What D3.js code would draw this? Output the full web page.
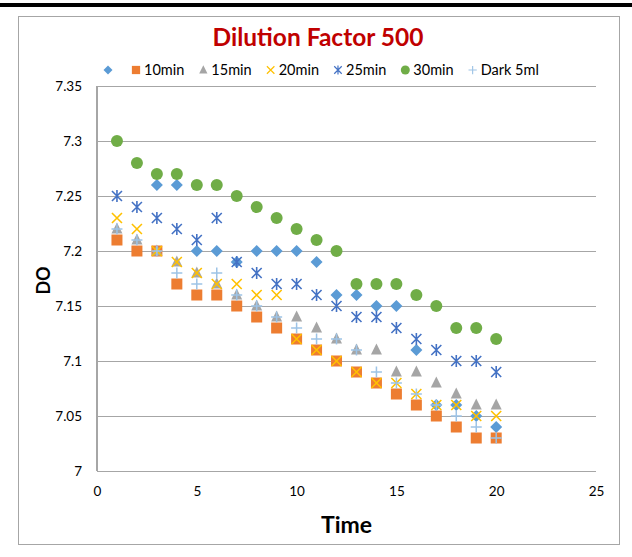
<!DOCTYPE html>
<html>
<head>
<meta charset="utf-8">
<script src="https://cdn.jsdelivr.net/npm/d3@7"></script>
<style>
  html, body { margin: 0; padding: 0; background: #fff; }
  svg { display: block; font-family: Lato, "Open Sans", sans-serif; }
</style>
</head>
<body>
<svg id="chart" width="632" height="557"></svg>
<script>
// ---- data ----
const timeValues = [1,2,3,4,5,6,7,8,9,10,11,12,13,14,15,16,17,18,19,20];
const seriesNames = ["", "10min", "15min", "20min", "25min", "30min", "Dark 5ml"];
const seriesBlank = [null, null, 7.26, 7.26, 7.2, 7.2, 7.19, 7.2, 7.2, 7.2, 7.19, 7.16, 7.16, 7.15, 7.15, 7.11, 7.06, 7.06, 7.05, 7.04];
const series10 = [7.21, 7.2, 7.2, 7.17, 7.16, 7.16, 7.15, 7.14, 7.13, 7.12, 7.11, 7.1, 7.09, 7.08, 7.07, 7.06, 7.05, 7.04, 7.03, 7.03];
const series15 = [7.22, 7.21, 7.2, 7.19, 7.18, 7.17, 7.16, 7.15, 7.14, 7.14, 7.13, 7.12, 7.11, 7.11, 7.09, 7.09, 7.08, 7.07, 7.06, 7.06];
const series20 = [7.23, 7.22, 7.2, 7.19, 7.18, 7.17, 7.17, 7.16, 7.16, 7.12, 7.11, 7.1, 7.09, 7.08, 7.08, 7.07, 7.06, 7.06, 7.05, 7.05];
const series25 = [7.25, 7.24, 7.23, 7.22, 7.21, 7.23, 7.19, 7.18, 7.17, 7.17, 7.16, 7.15, 7.14, 7.14, 7.13, 7.12, 7.11, 7.1, 7.1, 7.09];
const series30 = [7.3, 7.28, 7.27, 7.27, 7.26, 7.26, 7.25, 7.24, 7.23, 7.22, 7.21, 7.2, 7.17, 7.17, 7.17, 7.16, 7.15, 7.13, 7.13, 7.12];
const seriesDark = [7.22, 7.21, 7.2, 7.18, 7.17, 7.18, 7.16, 7.15, 7.14, 7.13, 7.12, 7.12, 7.11, 7.09, 7.08, 7.07, 7.06, 7.05, 7.04, 7.03];
const xTicks = [0, 5, 10, 15, 20, 25];
const yTicks = [7, 7.05, 7.1, 7.15, 7.2, 7.25, 7.3, 7.35];
const titleText = "Dilution Factor 500";
const xTitle = "Time";
const yTitle = "DO";

// ---- styles ----
const colors = ["#5B9BD5", "#ED7D31", "#A5A5A5", "#FFC000", "#4472C4", "#70AD47", "#9DC3E6"];
const shapes = ["diamond", "square", "triangle", "x", "asterisk", "circle", "plus"];
const allSeries = [seriesBlank, series10, series15, series20, series25, series30, seriesDark];

const svg = d3.select("#chart");

// page decoration: top rule and chart border
svg.append("rect").attr("x", 0).attr("y", 3).attr("width", 632).attr("height", 4).attr("fill", "#000");
svg.append("rect").attr("x", 18.5).attr("y", 16.5).attr("width", 601).attr("height", 528)
  .attr("fill", "#fff").attr("stroke", "#A6A6A6").attr("stroke-width", 1);

const plot = { left: 97, right: 596, top: 86, bottom: 471 };
const x = d3.scaleLinear().domain([0, 25]).range([plot.left, plot.right]);
const y = d3.scaleLinear().domain([7, 7.35]).range([plot.bottom, plot.top]);

// gridlines + y labels
const yAxis = d3.axisLeft(y).tickValues(yTicks).tickSize(-(plot.right - plot.left)).tickPadding(15)
  .tickFormat(d => String(+d.toFixed(2)));
const gy = svg.append("g").attr("transform", `translate(${plot.left},0)`).call(yAxis);
gy.select(".domain").remove();
gy.selectAll(".tick line").attr("stroke", "#A6A6A6").attr("stroke-width", 1.3).attr("shape-rendering", "crispEdges");
gy.selectAll(".tick text").attr("font-size", 13.5).attr("fill", "#000").attr("font-family", "Lato, sans-serif");

// x labels
const xAxis = d3.axisBottom(x).tickValues(xTicks).tickSize(0).tickPadding(15);
const gx = svg.append("g").attr("transform", `translate(0,${plot.bottom})`).call(xAxis);
gx.select(".domain").remove();
gx.selectAll(".tick text").attr("font-size", 13.5).attr("fill", "#000").attr("font-family", "Lato, sans-serif");

// left axis line
svg.append("line").attr("x1", plot.left).attr("x2", plot.left).attr("y1", plot.top).attr("y2", plot.bottom)
  .attr("stroke", "#A6A6A6").attr("stroke-width", 1.3).attr("shape-rendering", "crispEdges");

// marker drawing
function drawMarker(g, shape, color) {
  switch (shape) {
    case "diamond":
      g.append("path").attr("d", "M0,-6L6,0L0,6L-6,0Z").attr("fill", color); break;
    case "square":
      g.append("rect").attr("x", -5.5).attr("y", -5.5).attr("width", 11).attr("height", 11).attr("fill", color); break;
    case "triangle":
      g.append("path").attr("d", "M0,-6.5L5.5,4.5L-5.5,4.5Z").attr("fill", color); break;
    case "x":
      g.append("path").attr("d", "M-5,-5L5,5M-5,5L5,-5").attr("stroke", color).attr("stroke-width", 1.6).attr("fill", "none"); break;
    case "asterisk":
      g.append("path").attr("d", "M-5,-5L5,5M-5,5L5,-5M0,-6L0,6").attr("stroke", color).attr("stroke-width", 1.6).attr("fill", "none"); break;
    case "circle":
      g.append("circle").attr("r", 6).attr("fill", color); break;
    case "plus":
      g.append("path").attr("d", "M-5.5,0L5.5,0M0,-5.5L0,5.5").attr("stroke", color).attr("stroke-width", 1.5).attr("fill", "none"); break;
  }
}

// points
allSeries.forEach((vals, i) => {
  const pts = timeValues.map((t, j) => ({ t, v: vals[j] })).filter(d => d.v != null);
  const g = svg.append("g").attr("class", "series-" + i);
  g.selectAll("g.pt").data(pts).enter().append("g").attr("class", "pt")
    .attr("transform", d => `translate(${x(d.t)},${y(d.v)})`)
    .each(function () { drawMarker(d3.select(this), shapes[i], colors[i]); });
});

// title
svg.append("text").attr("x", 318).attr("y", 46).attr("text-anchor", "middle")
  .attr("font-size", 24.5).attr("font-weight", "bold").attr("fill", "#C00000").text(titleText);

// axis titles
svg.append("text").attr("x", (plot.left + plot.right) / 2).attr("y", 533).attr("text-anchor", "middle")
  .attr("font-size", 23).attr("font-weight", "bold").attr("fill", "#000").text(xTitle);
svg.append("text").attr("transform", `translate(50,${(plot.top + plot.bottom) / 2 + 2}) rotate(-90)`)
  .attr("text-anchor", "middle").attr("font-size", 18).attr("font-weight", "bold").attr("fill", "#000").text(yTitle);

// legend
const legend = svg.append("g").attr("transform", "translate(0,70)");
let lx = 108;
seriesNames.forEach((name, i) => {
  const item = legend.append("g").attr("transform", `translate(${lx},0)`);
  const mg = item.append("g").attr("transform", "scale(0.75)");
  drawMarker(mg, shapes[i], colors[i]);
  const t = item.append("text").attr("x", 8).attr("y", 5).attr("font-size", 14.5).attr("fill", "#000").text(name);
  const w = name ? t.node().getComputedTextLength() : 0;
  lx += name ? 8 + w + 19 : 28;
});
</script>
</body>
</html>
